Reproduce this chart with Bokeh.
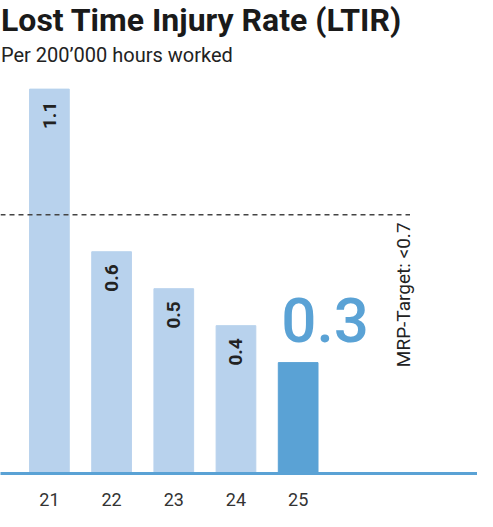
import math
from bokeh.plotting import figure
from bokeh.models import Range1d, FixedTicker, ColumnDataSource
from bokeh.core.properties import value
from bokeh.embed import file_html
from bokeh.resources import INLINE

# ---- data ----
years = [21, 22, 23, 24, 25]
year_labels = ["21", "22", "23", "24", "25"]
ltir = [1.04, 0.60, 0.50, 0.40, 0.30]
ltir_labels = ["1.1", "0.6", "0.5", "0.4"]
current_label = "0.3"
target = 0.7
target_label = "MRP-Target: <0.7"
title_text = "Lost Time Injury Rate (LTIR)"
subtitle_text = "Per 200\u2019000 hours worked"

# ---- layout ----
W, H = 477, 511
BORDER_B = 38
FRAME_H = H - BORDER_B
PX_X = 62.19          # px per year
PX_Y = 369.6          # px per unit
X0 = 21 - 48.9 / PX_X
X1 = X0 + W / PX_X
Y1 = FRAME_H / PX_Y
BL = 0.35             # baseline correction (fraction of font size)

def dx(px):  # screen x (from left) -> data
    return X0 + px / PX_X

def dy(px):  # screen y (from top) -> data
    return (FRAME_H - px) / PX_Y

LIGHT = "#b8d2ed"
DARK = "#5aa2d5"
TEXT = "#222222"
BAR_W = 39.7 / PX_X

p = figure(width=W, height=H, x_range=Range1d(X0, X1), y_range=Range1d(0, Y1),
           output_backend="svg", toolbar_location=None,
           min_border_left=0, min_border_right=0, min_border_top=0,
           min_border_bottom=BORDER_B)
p.outline_line_color = None
p.grid.visible = False
p.yaxis.visible = False
p.background_fill_color = "white"
p.border_fill_color = "white"

colors = [LIGHT] * (len(years) - 1) + [DARK]
src = ColumnDataSource(dict(x=years, top=ltir, color=colors))
p.vbar(x="x", top="top", width=BAR_W, bottom=0, color="color", source=src)

# value labels inside bars (rotated)
lab_src = ColumnDataSource(dict(x=years[:-1], y=[v - 12.6 / PX_Y for v in ltir[:-1]],
                                t=ltir_labels))
p.text(x="x", y="y", text="t", source=lab_src, angle=math.pi / 2,
       text_align="right", text_baseline="middle",
       text_font=value("Roboto"), text_font_style="bold",
       text_font_size="19px", text_color=TEXT)

# big label for current year
FS_BIG = 62
p.text(x=[years[-1] - BAR_W / 2 + 3 / PX_X], y=[ltir[-1] + (21 + BL * FS_BIG) / PX_Y],
       text=[current_label], text_align="left", text_baseline="alphabetic",
       text_font=value("Roboto Medium, Roboto"), text_font_size=f"{FS_BIG}px",
       text_color=DARK)

# target line
p.line(x=[X0, dx(409.5)], y=[target, target], line_color="#444444",
       line_width=1.5, line_dash="5 4")
FS_T = 19
p.text(x=[dx(410 - BL * FS_T)], y=[dy(0.97 * 378)], text=[target_label],
       angle=math.pi / 2, text_align="left", text_baseline="alphabetic",
       text_font=value("Roboto"), text_font_size=f"{FS_T}px", text_color=TEXT)

# titles
FS_TITLE = 32
FS_SUB = 20
p.text(x=[dx(0.5)], y=[dy(31 - BL * FS_TITLE)], text=[title_text], text_align="left",
       text_baseline="alphabetic", text_font=value("Roboto"),
       text_font_style="bold", text_font_size=f"{FS_TITLE}px", text_color="#1a1a1a")
p.text(x=[dx(0.5)], y=[dy(61 - BL * FS_SUB)], text=[subtitle_text], text_align="left",
       text_baseline="alphabetic", text_font=value("Roboto"),
       text_font_size=f"{FS_SUB}px", text_color=TEXT)

# x axis
ax = p.xaxis[0]
ax.ticker = FixedTicker(ticks=years)
ax.major_label_overrides = {y: l for y, l in zip(years, year_labels)}
ax.axis_line_color = DARK
ax.axis_line_width = 3
ax.major_tick_line_color = None
ax.minor_tick_line_color = None
ax.major_tick_out = 0
ax.major_tick_in = 0
ax.major_label_standoff = 19
ax.major_label_text_font = "Roboto"
ax.major_label_text_font_size = "18px"
ax.major_label_text_color = "#333333"

open("out.html", "w").write(file_html(p, INLINE))
